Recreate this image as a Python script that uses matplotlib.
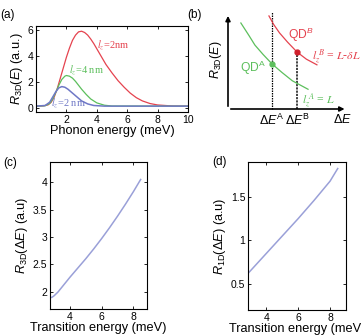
import numpy as np
import matplotlib
matplotlib.use('Agg')
import matplotlib.pyplot as plt

plt.rcParams['font.family'] = ['Liberation Sans', 'DejaVu Sans']
plt.rcParams['mathtext.fontset'] = 'custom'
plt.rcParams['mathtext.rm'] = 'Liberation Sans'
plt.rcParams['mathtext.it'] = 'Liberation Sans:italic'
plt.rcParams['mathtext.bf'] = 'Liberation Sans:bold'

# ---- data, panel (a): R_3D(E) vs phonon energy ----
E_red = [0.0, 0.5, 0.8, 1.0, 1.2, 1.4, 1.6, 1.8, 2.0, 2.2, 2.4, 2.6, 2.8, 3.0, 3.2, 3.4,
         3.6, 3.8, 4.0, 4.3, 4.6, 5.0, 5.4, 5.8, 6.2, 6.6, 7.0, 7.5, 8.0, 9.0, 10.0]
R_red = [0.15, 0.17, 0.25, 0.45, 0.85, 1.5, 2.3, 3.1, 3.9, 4.6, 5.2, 5.6, 5.85, 5.9, 5.8, 5.6,
         5.3, 4.95, 4.55, 3.95, 3.35, 2.7, 2.1, 1.6, 1.15, 0.8, 0.55, 0.35, 0.24, 0.16, 0.15]
E_green = [0.0, 0.6, 0.9, 1.1, 1.3, 1.5, 1.7, 1.9, 2.0, 2.2, 2.4, 2.6, 2.8, 3.0, 3.3, 3.6,
           4.0, 4.5, 5.0, 10.0]
R_green = [0.15, 0.18, 0.35, 0.7, 1.2, 1.75, 2.2, 2.45, 2.5, 2.45, 2.3, 2.05, 1.75, 1.45, 1.05, 0.7,
           0.4, 0.22, 0.16, 0.15]
E_blue = [0.0, 0.6, 0.9, 1.1, 1.3, 1.5, 1.7, 1.9, 2.1, 2.4, 2.7, 3.0, 3.4, 3.8, 4.5, 10.0]
R_blue = [0.15, 0.2, 0.45, 0.85, 1.25, 1.55, 1.65, 1.6, 1.45, 1.15, 0.85, 0.55, 0.32, 0.2, 0.15, 0.15]

# ---- panel (b): schematic ----
dE_A_curve = [1.1, 1.8, 2.3, 3.0, 3.76, 4.6, 5.5, 6.84]
R_A_curve = [9.15, 7.8, 6.8, 5.8, 4.8, 3.9, 3.0, 2.1]
dE_B_curve = [3.5, 3.9, 4.4, 5.1, 5.9, 6.7, 7.6]
R_B_curve = [9.9, 9.0, 8.1, 7.1, 6.06, 5.3, 4.7]
dE_A, R_A = 3.76, 4.8
dE_B, R_B = 5.9, 6.06

# ---- panel (c): R_3D vs transition energy ----
Et_c = [2.75, 2.85, 3.0, 3.25, 3.5, 4.0, 4.5, 5.0, 5.5, 6.0, 6.5, 7.0, 7.5, 8.0, 8.45]
R3_c = [1.90, 1.89, 1.92, 1.99, 2.08, 2.26, 2.43, 2.6, 2.78, 2.97, 3.17, 3.38, 3.6, 3.83, 4.05]

# ---- panel (d): R_1D vs transition energy ----
Et_d = [2.9, 4.0, 5.0, 6.0, 7.0, 8.0, 8.48]
R1_d = [0.63, 0.85, 1.05, 1.25, 1.46, 1.68, 1.825]

red = '#e5434f'
green = '#5cbf5c'
blue = '#6f78c6'
lblue = '#9aa0d8'

W, H = 361, 335
fig = plt.figure(figsize=(W / 100, H / 100), dpi=100)


def rect(x0, x1, y0, y1):
    return [x0 / W, 1 - y1 / H, (x1 - x0) / W, (y1 - y0) / H]


def matlab_style(ax):
    ax.tick_params(direction='in', top=True, right=True, length=2.5, width=0.6,
                   labelsize=7.5, pad=2)
    for s in ax.spines.values():
        s.set_linewidth(0.8)


# (a)
ax = fig.add_axes(rect(36, 188, 26, 112))
ax.plot(E_red, R_red, color=red, lw=0.9)
ax.plot(E_green, R_green, color=green, lw=0.9)
ax.plot(E_blue, R_blue, color=blue, lw=1.1)
ax.set_xlim(0, 10)
ax.set_ylim(-0.3, 6.3)
ax.set_xticks([2, 4, 6, 8, 10])
ax.set_yticks([0, 2, 4, 6])
matlab_style(ax)
ax.set_xlabel('Phonon energy (meV)', fontsize=9.2, labelpad=0)
ax.set_ylabel(r'$R_{\rm 3D}(E)$ (a.u.)', fontsize=9.2, labelpad=2)
ax.text(4.0, 4.6, r'$l_z$=2nm', color=red, fontsize=7.5, family='Liberation Serif',
        math_fontfamily='stix')
ax.text(2.2, 2.7, r'$l_z$=4 nm', color=green, fontsize=7.5, family='Liberation Serif',
        math_fontfamily='stix')
ax.text(1.0, 0.2, r'$l_z$=2 nm', color=blue, fontsize=7.5, family='Liberation Serif',
        math_fontfamily='stix')
fig.text(0 / W, 1 - 18 / H, '(a)', fontsize=8.5)

# (b)
ax = fig.add_axes(rect(228, 345, 15, 109))
ax.set_xlim(0, 10)
ax.set_ylim(0, 10)
ax.axis('off')
ax.annotate('', xy=(10.2, 0), xytext=(0, 0),
            arrowprops=dict(arrowstyle='-|>', color='k', lw=1.2, mutation_scale=7),
            annotation_clip=False)
ax.annotate('', xy=(0, 10.2), xytext=(0, 0),
            arrowprops=dict(arrowstyle='-|>', color='k', lw=1.2, mutation_scale=7),
            annotation_clip=False)
ax.plot([dE_A, dE_A], [0, 10.3], color='k', ls=(0, (1.2, 0.8)), lw=0.9, clip_on=False)
ax.plot([dE_B, dE_B], [0, R_B], color='#333333', ls=(0, (1.2, 0.6)), lw=1.3, clip_on=False)
ax.plot(dE_A_curve, R_A_curve, color=green, lw=0.9, clip_on=False)
ax.plot(dE_B_curve, R_B_curve, color=red, lw=0.9, clip_on=False)
ax.plot([dE_A], [R_A], 'o', color=green, ms=3.5, clip_on=False)
ax.plot([dE_B], [R_B], 'o', color='#d0202c', ms=3.5, clip_on=False)
ax.text(1.0, 3.9, r'QD$^{\rm A}$', color=green, fontsize=8.7)
ax.text(5.1, 7.4, r'QD$^{B}$', color=red, fontsize=8.7)
ax.text(7.2, 5.3, r'$l_z^{\;B}$ = $L$-$\delta L$', color=red, fontsize=8.5,
        family='Liberation Serif', math_fontfamily='stix')
ax.text(6.3, 0.6, r'$l_z^{\;A}$ = $L$', color=green, fontsize=8.5,
        family='Liberation Serif', math_fontfamily='stix')
ax.text(dE_A, -0.4, r'$\Delta E^{\rm A}$', fontsize=9, ha='center', va='top')
ax.text(dE_B, -0.4, r'$\Delta E^{\rm B}$', fontsize=9, ha='center', va='top')
ax.text(9.8, -0.4, r'$\Delta E$', fontsize=9, ha='center', va='top')
ax.text(-0.3, 5.2, r'$R_{\rm 3D}(E)$', fontsize=9, rotation=90, ha='right', va='center')
fig.text(187 / W, 1 - 18 / H, '(b)', fontsize=8.5)

# (c)
ax = fig.add_axes(rect(50, 147, 162, 309))
ax.plot(Et_c, R3_c, color=lblue, lw=1.1)
ax.set_xlim(2.75, 8.85)
ax.set_ylim(1.68, 4.37)
ax.set_xticks([4, 6, 8])
ax.set_yticks([2, 2.5, 3, 3.5, 4])
ax.set_yticklabels(['2', '2.5', '3', '3.5', '4'])
matlab_style(ax)
ax.set_xlabel('Transition energy (meV)', fontsize=9.2, labelpad=0)
ax.set_ylabel(r'$R_{\rm 3D}(\Delta E)$ (a.u)', fontsize=9.2, labelpad=2)
fig.text(3 / W, 1 - 166 / H, '(c)', fontsize=8.5)

# (d)
ax = fig.add_axes(rect(248, 346, 162, 310))
ax.plot(Et_d, R1_d, color=lblue, lw=1.1)
ax.set_xlim(2.85, 9.0)
ax.set_ylim(0.2, 1.9)
ax.set_xticks([4, 6, 8])
ax.set_yticks([0.5, 1, 1.5])
ax.set_yticklabels(['0.5', '1', '1.5'])
matlab_style(ax)
# the reference crops this label at the right edge as well
ax.set_xlabel('Transition energy (meV)', fontsize=9.2, labelpad=0)
ax.set_ylabel(r'$R_{\rm 1D}(\Delta E)$ (a.u)', fontsize=9.2, labelpad=2)
fig.text(212 / W, 1 - 165 / H, '(d)', fontsize=8.5)

fig.savefig('out.png', dpi=100)
